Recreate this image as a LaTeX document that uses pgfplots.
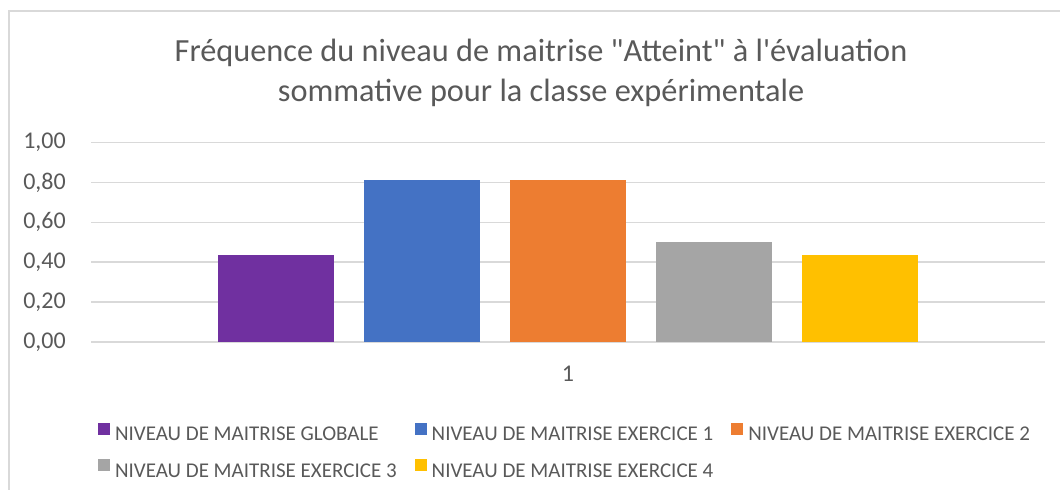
\documentclass[border=0pt]{standalone}
\usepackage{fontspec}
\setmainfont{Carlito}[Ligatures=TeXOff]
\usepackage{pgfplots}
\pgfplotsset{compat=1.18}
\definecolor{txt}{HTML}{595959}
\definecolor{gridc}{HTML}{D9D9D9}
\definecolor{cPurple}{HTML}{7030A0}
\definecolor{cBlue}{HTML}{4472C4}
\definecolor{cOrange}{HTML}{ED7D31}
\definecolor{cGray}{HTML}{A5A5A5}
\definecolor{cGold}{HTML}{FFC000}
\begin{document}
\begin{tikzpicture}
\useasboundingbox (0,0) rectangle (1060bp,490bp);
\draw[gridc, line width=1.5bp] (9bp,0bp) -- (9bp,479bp) -- (1060bp,479bp);
\node[anchor=base, text=txt, inner sep=0pt] at (541bp,428bp) {\fontsize{32.3bp}{38bp}\selectfont Fréquence du niveau de maitrise "Atteint" à l'évaluation};
\node[anchor=base, text=txt, inner sep=0pt] at (541bp,388bp) {\fontsize{32.3bp}{38bp}\selectfont sommative pour la classe expérimentale};
\begin{axis}[
  at={(91bp,148bp)}, anchor=south west,
  scale only axis, width=954bp, height=199.5bp,
  xmin=0, xmax=2, ymin=0, ymax=1,
  ybar=30bp, bar width=116bp,
  xtick={1}, xticklabels={1},
  ytick={0,0.2,0.4,0.6,0.8,1},
  axis line style={draw=none},
  major tick length=0pt,
  ymajorgrids, grid style={draw=gridc, line width=1.5bp},
  /pgf/number format/.cd, fixed, fixed zerofill, precision=2, use comma, assume math mode=true,
  /pgfplots/.cd,
  ticklabel style={text=txt, font=\fontsize{24bp}{28bp}\selectfont},
  yticklabel style={inner sep=0pt, anchor=east, xshift=-25bp},
  xticklabel style={inner sep=0pt, anchor=north, yshift=-24bp},
  legend columns=3,
  legend cell align=left,
  legend style={at={(axis description cs:0.00734,-0.405)}, anchor=north west,
    draw=none, fill=none, inner sep=0pt, outer sep=0pt,
    nodes={inner sep=0pt, text=txt, font=\fontsize{21bp}{25bp}\selectfont},
    row sep=17bp,
    /tikz/every odd column/.append style={column sep=5bp},
    /tikz/every even column/.append style={column sep=18bp}},
  legend image code/.code={\fill[#1] (0bp,0bp) rectangle (12bp,12bp);},
]
\addplot[fill=cPurple, draw=none] coordinates {(1,0.4375)};
\addlegendentry{NIVEAU DE MAITRISE GLOBALE}
\addplot[fill=cBlue, draw=none] coordinates {(1,0.8125)};
\addlegendentry{NIVEAU DE MAITRISE EXERCICE 1}
\addplot[fill=cOrange, draw=none] coordinates {(1,0.8125)};
\addlegendentry{NIVEAU DE MAITRISE EXERCICE 2}
\addplot[fill=cGray, draw=none] coordinates {(1,0.5)};
\addlegendentry{NIVEAU DE MAITRISE EXERCICE 3}
\addplot[fill=cGold, draw=none] coordinates {(1,0.4375)};
\addlegendentry{NIVEAU DE MAITRISE EXERCICE 4}
\end{axis}
\end{tikzpicture}
\end{document}
